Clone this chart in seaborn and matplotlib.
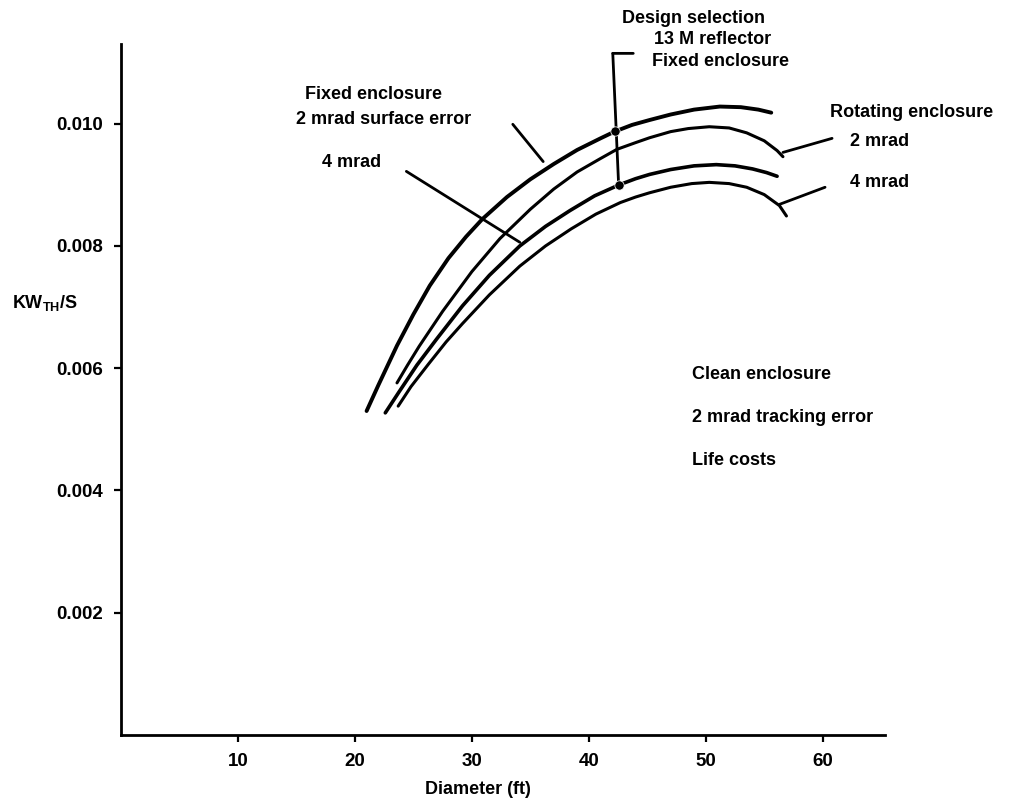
import matplotlib
matplotlib.use("Agg")
import matplotlib.pyplot as plt
import pandas as pd
import seaborn as sns

# Curves (diameter, KW_TH/S)
fixed_2mrad_x = [21.0, 22.0, 23.6, 25.0, 26.4, 28.0, 29.5, 30.9, 33.0, 35.0, 37.0, 39.0,
                 41.0, 42.2, 43.7, 45.2, 47.0, 49.0, 51.2, 53.0, 54.5, 55.6]
fixed_2mrad_y = [0.00530, 0.00572, 0.00637, 0.00688, 0.00735, 0.00780, 0.00815, 0.00844,
                 0.00880, 0.00909, 0.00934, 0.00957, 0.00976, 0.00987, 0.00998, 0.01006,
                 0.01015, 0.01023, 0.01028, 0.01027, 0.01023, 0.01018]

rot_2mrad_x = [23.6, 24.5, 25.5, 27.5, 30.0, 32.4, 35.0, 37.0, 39.0, 41.0, 42.4, 44.0,
               45.2, 47.0, 48.5, 50.3, 52.0, 53.5, 55.0, 56.1, 56.6]
rot_2mrad_y = [0.00576, 0.00605, 0.00636, 0.00693, 0.00758, 0.00812, 0.00860, 0.00893,
               0.00921, 0.00943, 0.00958, 0.00969, 0.00977, 0.00987, 0.00992, 0.00995,
               0.00993, 0.00985, 0.00972, 0.00956, 0.00946]

fixed_4mrad_x = [22.6, 23.8, 25.3, 27.0, 29.2, 31.5, 34.1, 36.3, 38.4, 40.5, 42.6, 44.0,
                 45.2, 47.0, 49.0, 50.9, 52.5, 54.0, 55.2, 56.1]
fixed_4mrad_y = [0.00527, 0.00562, 0.00605, 0.00648, 0.00702, 0.00752, 0.00800, 0.00832,
                 0.00858, 0.00882, 0.00900, 0.00910, 0.00917, 0.00925, 0.00931, 0.00933,
                 0.00931, 0.00926, 0.00920, 0.00914]

rot_4mrad_x = [23.7, 24.8, 26.3, 27.8, 29.2, 31.5, 34.1, 36.3, 38.5, 40.6, 42.7, 44.0,
               45.2, 47.0, 48.8, 50.3, 52.0, 53.5, 55.0, 56.3, 56.9]
rot_4mrad_y = [0.00538, 0.00570, 0.00607, 0.00643, 0.00673, 0.00720, 0.00767, 0.00800,
               0.00828, 0.00852, 0.00871, 0.00880, 0.00887, 0.00896, 0.00902, 0.00904,
               0.00902, 0.00896, 0.00884, 0.00866, 0.00849]

# Design selection points (13 M reflector)
design_x = [42.2, 42.6]
design_y = [0.00988, 0.00900]

x_ticks = [10, 20, 30, 40, 50, 60]
y_ticks = [0.002, 0.004, 0.006, 0.008, 0.010]

curves = {
    "fixed_2": (fixed_2mrad_x, fixed_2mrad_y, 2.8),
    "rot_2": (rot_2mrad_x, rot_2mrad_y, 2.2),
    "fixed_4": (fixed_4mrad_x, fixed_4mrad_y, 2.6),
    "rot_4": (rot_4mrad_x, rot_4mrad_y, 2.2),
}

sns.set_style("ticks")
plt.rcParams["font.family"] = ["Liberation Sans", "DejaVu Sans"]
plt.rcParams["font.weight"] = "bold"

fig = plt.figure(figsize=(10.21, 8.08), dpi=100)
ax = fig.add_axes([0.1185, 0.0903, 0.748, 0.855])

for name, (xs, ys, lw) in curves.items():
    df = pd.DataFrame({"diameter": xs, "kw": ys})
    sns.lineplot(data=df, x="diameter", y="kw", color="black", lw=lw, ax=ax,
                 solid_capstyle="round", solid_joinstyle="round")

sns.scatterplot(x=design_x, y=design_y, color="black", s=45, ax=ax, zorder=5)

ax.set_xlim(0, 65.3)
ax.set_ylim(0, 0.0113)
ax.set_xticks(x_ticks)
ax.set_xticklabels([str(t) for t in x_ticks])
ax.set_yticks(y_ticks)
ax.set_yticklabels([f"{t:.3f}" for t in y_ticks])
ax.set_xlabel("")
ax.set_ylabel("")
ax.tick_params(axis="both", labelsize=13.5, length=5, width=1.6, pad=8,
               colors="black")
for lab in ax.get_xticklabels() + ax.get_yticklabels():
    lab.set_fontweight("bold")
sns.despine(ax=ax)
for side in ["left", "bottom"]:
    ax.spines[side].set_linewidth(2)
    ax.spines[side].set_color("black")

fs = 13
txt = dict(fontsize=fs, fontweight="bold", color="black")

# axis titles
fig.text(12 / 1021, 1 - 303 / 808, r"KW$_{\mathregular{TH}}$/S", ha="left", va="center", **txt)
fig.text(425 / 1021, 1 - 790 / 808, "Diameter (ft)", ha="left", va="center", **txt)

# left annotations
ax.text(15.7, 0.01047, "Fixed enclosure", ha="left", va="center", **txt)
ax.text(15.0, 0.01007, "2 mrad surface error", ha="left", va="center", **txt)
ax.text(17.2, 0.00937, "4 mrad", ha="left", va="center", **txt)

line_kw = dict(arrowstyle="-", lw=2, color="black", shrinkA=0, shrinkB=0)
ax.annotate("", xy=(36.1, 0.00938), xytext=(33.5, 0.00999), arrowprops=line_kw)
ax.annotate("", xy=(34.1, 0.00806), xytext=(24.4, 0.00922), arrowprops=line_kw)

# design selection
ax.text(42.8, 0.01172, "Design selection", ha="left", va="center", **txt)
ax.text(45.6, 0.01137, "13 M reflector", ha="left", va="center", **txt)
ax.text(45.4, 0.01101, "Fixed enclosure", ha="left", va="center", **txt)
ax.annotate("", xy=(42.55, 0.00900), xytext=(42.05, 0.01115), arrowprops=line_kw,
            annotation_clip=False)
ax.annotate("", xy=(43.8, 0.01115), xytext=(42.05, 0.01115), arrowprops=line_kw,
            annotation_clip=False)

# rotating enclosure
ax.text(60.6, 0.01018, "Rotating enclosure", ha="left", va="center", **txt)
ax.text(62.3, 0.00971, "2 mrad", ha="left", va="center", **txt)
ax.text(62.3, 0.00904, "4 mrad", ha="left", va="center", **txt)
ax.annotate("", xy=(56.6, 0.00953), xytext=(60.8, 0.00976), arrowprops=line_kw,
            annotation_clip=False)
ax.annotate("", xy=(56.3, 0.00868), xytext=(60.2, 0.00896), arrowprops=line_kw,
            annotation_clip=False)

# conditions
ax.text(48.8, 0.00589, "Clean enclosure", ha="left", va="center", **txt)
ax.text(48.8, 0.00519, "2 mrad tracking error", ha="left", va="center", **txt)
ax.text(48.8, 0.00449, "Life costs", ha="left", va="center", **txt)

fig.savefig("out.png", dpi=100)
